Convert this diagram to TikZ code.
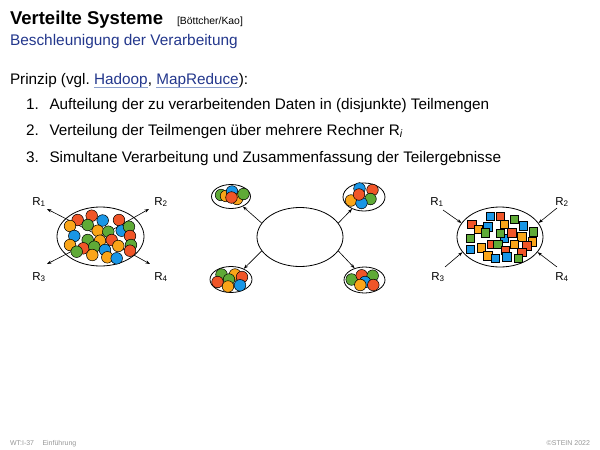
\documentclass[tikz,border=0pt]{standalone}
\usepackage{fontspec}
\setmainfont{Liberation Sans}
\usetikzlibrary{arrows.meta,shapes.geometric}
\definecolor{bred}{RGB}{240,85,40}
\definecolor{bgreen}{RGB}{95,170,55}
\definecolor{bblue}{RGB}{25,150,230}
\definecolor{borange}{RGB}{250,165,25}
\definecolor{titleblue}{RGB}{35,55,140}
\definecolor{ulblue}{RGB}{140,160,205}
\definecolor{footgray}{RGB}{150,150,150}
\tikzset{
  txt/.style={anchor=base west,inner sep=0,outer sep=0},
  body/.style={txt,font=\fontsize{15.3}{18}\selectfont},
  link/.style={body,text=titleblue},
  ulink/.style={draw=ulblue,line width=0.6pt},
  lab/.style={inner sep=0,font=\fontsize{11.5}{13}\selectfont},
  ell/.style={ellipse,draw,line width=0.8pt,fill=white,inner sep=0},
  arr/.style={line width=0.6pt,-{Stealth[length=4.5pt,width=3.2pt]}},
  ball/.style={draw,line width=0.5pt},
}
\newcommand{\balls}[1]{\foreach \x/\y/\c in {#1}{\draw[ball,fill=\c] (\x,\y) circle[radius=5.8];}}
\newcommand{\squares}[1]{\foreach \x/\y/\c in {#1}{\draw[ball,fill=\c] (\x-4.2,\y-4.2) rectangle ++(8.4,8.4);}}
\begin{document}
\begin{tikzpicture}[x=1pt,y=-1pt]
\useasboundingbox (0,0) rectangle (600,450);
% header
\node[txt,font=\fontsize{18.5}{20}\selectfont\bfseries] (title) at (10,24) {Verteilte Systeme};
\node[txt,font=\fontsize{10.4}{12}\selectfont] (cite) at (177,24) {[Böttcher/Kao]};
\node[txt,font=\fontsize{15.4}{18}\selectfont,text=titleblue] (sub) at (10,45.5) {Beschleunigung der Verarbeitung};
% body
\node[body] (p1) at (10,84) {Prinzip (vgl.\ \mbox{}};
\node[link] (had) at (p1.base east) {Hadoop};
\node[body] (p2) at (had.base east) {,\ \mbox{}};
\node[link] (mr) at (p2.base east) {MapReduce};
\node[body] (p3) at (mr.base east) {):};
\draw[ulink] ([yshift=-3.4pt]had.base west) -- ([yshift=-3.4pt]had.base east);
\draw[ulink] ([yshift=-3.4pt]mr.base west) -- ([yshift=-3.4pt]mr.base east);
\node[body] (n1) at (26,109) {1.};
\node[body] (i1) at (49.5,109) {Aufteilung der zu verarbeitenden Daten in (disjunkte) Teilmengen};
\node[body] (n2) at (26,135) {2.};
\node[body] (i2) at (49.5,135) {Verteilung der Teilmengen über mehrere Rechner R\textsubscript{\itshape i}};
\node[body] (n3) at (26,162) {3.};
\node[body] (i3) at (49.5,162) {Simultane Verarbeitung und Zusammenfassung der Teilergebnisse};
% footer
\node[txt,font=\fontsize{7}{8}\selectfont,text=footgray] (f1) at (10,445) {WT:I-37\hspace{1.2em}Einführung};
\node[txt,anchor=base east,font=\fontsize{7}{8}\selectfont,text=footgray] (f2) at (590,445) {©STEIN 2022};

% ---------- left diagram ----------
\node[ell,minimum width=87pt,minimum height=59pt] (L) at (100.5,236.5) {};
\node[lab] (l1) at (39,202) {R\textsubscript{1}};
\node[lab] (l2) at (161,202) {R\textsubscript{2}};
\node[lab] (l3) at (39,277) {R\textsubscript{3}};
\node[lab] (l4) at (161,277) {R\textsubscript{4}};
\coordinate (t1) at (47,209);
\coordinate (t2) at (149,209);
\coordinate (t3) at (47,264);
\coordinate (t4) at (150,264);
\draw[arr] (L.center) -- (t1);
\draw[arr] (L.center) -- (t2);
\draw[arr] (L.center) -- (t3);
\draw[arr] (L.center) -- (t4);
\balls{77.7/220/bred,91.7/215.7/bred,102.7/220.5/bblue,119/220/bred,
70/226/borange,87.7/225/bgreen,97.7/230.7/borange,108.3/231.7/bgreen,121.7/230.7/bblue,129/226.7/bgreen,130/236/bred,
74.3/236/bblue,87.7/240/bgreen,100/240.7/borange,111.7/240/bred,118.3/246/borange,
70/245/borange,83.3/248.3/bred,76.7/251.7/bgreen,94.3/246.7/bgreen,105/250/bblue,131/245/bgreen,130/250.7/bred,
92.3/255/borange,107.3/257.3/borange,116.7/258.3/bblue}

% ---------- middle diagram ----------
\node[ell,minimum width=86pt,minimum height=59pt] (M) at (300,237) {};
\node[ell,minimum width=39pt,minimum height=24pt] (tl) at (231,196.5) {};
\node[ell,minimum width=42pt,minimum height=28pt] (tr) at (364,197) {};
\node[ell,minimum width=42pt,minimum height=26pt] (bl) at (231,279.5) {};
\node[ell,minimum width=41pt,minimum height=26pt] (br) at (364.5,280) {};
\draw[arr] (M.160) -- (tl.-40);
\draw[arr] (M.20) -- (tr.225);
\draw[arr] (M.200) -- (bl.40);
\draw[arr] (M.-20) -- (br.130);
\balls{221/195/bgreen,226/196/borange,232/191.5/bblue,237/199/borange,231.5/197.5/bred,243.5/194/bgreen}
\balls{359.5/188.5/bblue,372.5/190/bred,370.5/199/bgreen,351/200.5/borange,361.5/203/bblue,359/194.5/bred}
\balls{221.5/274.5/bgreen,235/274.5/borange,242/277/bred,229/279.5/bgreen,217.5/282/bred,228/286.5/borange,240/285.3/bblue}
\balls{351.7/279.5/bgreen,361.7/275.3/bred,372.7/275.7/bgreen,365/282/bblue,360.3/285/borange,373.3/285/bred}

% ---------- right diagram ----------
\node[ell,minimum width=86pt,minimum height=60pt] (R) at (500,237) {};
\node[lab] (r1) at (437,202) {R\textsubscript{1}};
\node[lab] (r2) at (562,202) {R\textsubscript{2}};
\node[lab] (r3) at (438,277) {R\textsubscript{3}};
\node[lab] (r4) at (562,277) {R\textsubscript{4}};
\coordinate (s1) at (443,210);
\coordinate (s2) at (557,208);
\coordinate (s3) at (445,267);
\coordinate (s4) at (557,267);
\draw[arr] (s1) -- (R.160);
\draw[arr] (s2) -- (R.20);
\draw[arr] (s3) -- (R.202);
\draw[arr] (s4) -- (R.-22);
\squares{490/216.5/bblue,500/216.5/bred,514.3/219/bgreen,
471.7/224/bred,478.3/229/borange,487.7/226.7/bblue,485/232.7/bgreen,504.3/224.3/borange,523.3/225.7/bblue,533.3/231.7/bgreen,
504.3/238.3/bblue,500/233.3/bgreen,511.7/232.7/bred,521.7/236.7/borange,
470/238.3/bgreen,532.3/241.7/borange,
491.7/244.3/bred,497.7/244.3/bgreen,514.3/244.3/borange,526.7/245.7/bred,
470/249/bblue,481/247.7/borange,505/250/bred,521.7/252.3/bred,
487.7/255.7/borange,495/258.3/bblue,506.7/256.7/bblue,518.3/258.3/bgreen}
\end{tikzpicture}
\end{document}
